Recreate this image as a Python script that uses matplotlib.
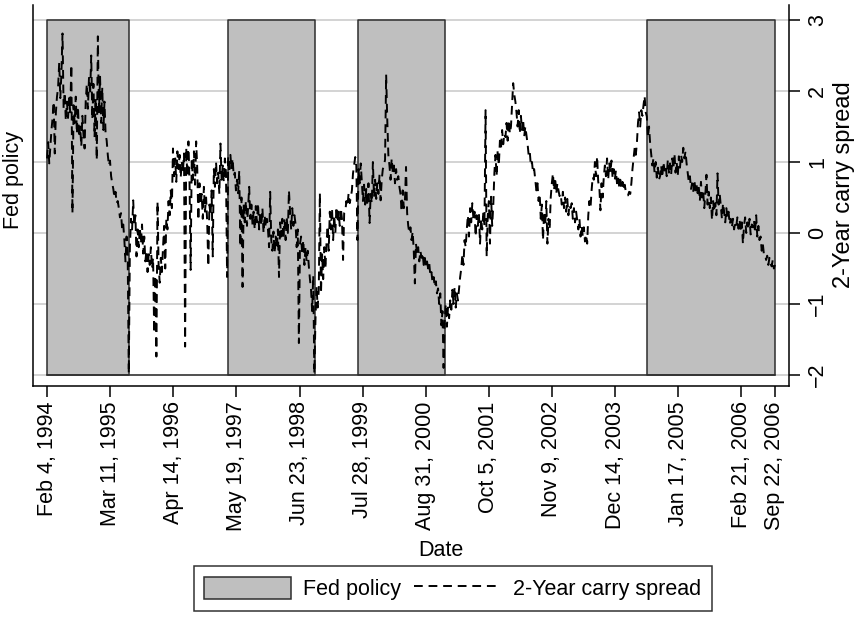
import pandas as pd
import matplotlib
matplotlib.use("Agg")
import matplotlib.pyplot as plt
from matplotlib.patches import Patch
from matplotlib.lines import Line2D

plt.rcParams['font.family'] = ['Liberation Sans', 'DejaVu Sans']

# Weekly (Friday) observations of the 2-year carry spread, starting 4 Feb 1994
start_date = '1994-02-04'
end_date = '2006-09-22'

tick_dates = ['1994-02-04', '1995-03-11', '1996-04-14', '1997-05-19', '1998-06-23',
              '1999-07-28', '2000-08-31', '2001-10-05', '2002-11-09', '2003-12-14',
              '2005-01-17', '2006-02-21', '2006-09-22']
tick_labels = ['Feb 4, 1994', 'Mar 11, 1995', 'Apr 14, 1996', 'May 19, 1997',
               'Jun 23, 1998', 'Jul 28, 1999', 'Aug 31, 2000', 'Oct 5, 2001',
               'Nov 9, 2002', 'Dec 14, 2003', 'Jan 17, 2005', 'Feb 21, 2006',
               'Sep 22, 2006']

# Fed tightening regimes (shaded)
policy_start = ['1994-02-04', '1997-03-25', '1999-06-30', '2004-06-30']
policy_end = ['1995-07-06', '1998-09-29', '2001-01-03', '2006-09-22']

spread = [
    1.05, 1.28, 0.98, 1.22, 1.45, 1.62, 1.85, 1.12, 1.70, 1.92,
    2.05, 2.40, 1.90, 2.25, 2.81, 1.75, 1.98, 1.58, 1.85, 1.62,
    1.90, 1.70, 2.37, 0.28, 1.80, 1.55, 1.92, 1.40, 1.78, 1.35,
    1.50, 1.22, 1.65, 1.38, 1.19, 1.85, 2.10, 1.75, 2.20, 1.95,
    2.50, 1.60, 2.10, 1.35, 1.90, 1.03, 2.77, 1.70, 2.20, 1.55,
    2.05, 1.45, 1.85, 1.40, 1.30, 1.10, 0.95, 1.02, 0.80, 0.70,
    0.62, 0.50, 0.58, 0.42, 0.45, 0.35, 0.22, 0.28, 0.05, 0.12,
    -0.10, -0.40, -0.05, -0.30, -1.98, -0.20, 0.20, 0.05, 0.46, 0.10,
    0.25, -0.33, 0.05, -0.20, 0.08, -0.15, 0.12, -0.29, -0.05, -0.40,
    -0.25, -0.55, -0.30, -0.45, -0.20, -0.50, -0.35, -1.41, -0.60, -1.74,
    0.44, -0.45, -0.70, -0.35, -0.55, -0.20, 0.10, -0.50, 0.20, 0.05,
    0.45, 0.25, 0.60, 0.35, 1.19, 0.80, 1.05, 0.72, 1.15, 0.90,
    1.10, 0.78, 1.00, 0.85, 1.12, -1.60, 1.20, 0.80, 1.29, 0.70,
    -0.52, 1.05, 0.75, 1.15, 0.68, 1.29, 0.90, 0.18, 0.70, 0.40,
    0.55, 0.20, 0.65, 0.30, 0.50, 0.15, -0.47, 0.40, 0.25, 0.60,
    -0.33, 0.90, 0.65, 1.00, 0.70, 0.85, 0.55, 1.26, 0.75, 0.95,
    0.72, 1.05, 0.85, -0.62, 1.08, 0.85, 1.10, 0.90, 1.05, 0.80,
    0.85, 0.60, 0.75, 0.56, 0.88, -0.19, 0.50, -0.76, 0.40, 0.15,
    0.45, 0.10, 0.35, 0.65, 0.20, 0.40, 0.12, 0.30, 0.05, 0.38,
    0.15, 0.42, 0.05, 0.30, 0.10, 0.35, 0.00, 0.25, 0.08, 0.20,
    0.05, -0.20, 0.58, -0.10, -0.25, 0.02, -0.28, -0.05, -0.22, 0.05,
    -0.62, 0.15, -0.05, 0.20, -0.08, 0.18, -0.10, 0.22, 0.00, 0.60,
    0.30, 0.05, 0.35, 0.10, 0.25, 0.12, -0.20, 0.05, -1.55, -0.15,
    -0.05, -0.30, -0.10, -0.45, -0.20, -0.40, -0.25, -0.47, -0.65, -0.80,
    -1.10, -0.60, -1.98, -1.23, -0.75, -1.05, -0.80, 0.56, -0.85, -0.30,
    -0.65, -0.20, -0.50, -0.15, 0.10, -0.25, 0.30, 0.05, 0.35, -0.10,
    0.25, 0.00, 0.37, 0.15, 0.30, 0.10, 0.35, 0.20, -0.38, 0.28,
    0.30, 0.45, 0.38, 0.56, 0.42, 0.50, 0.60, 0.84, 0.95, 1.07,
    0.95, -0.10, 0.90, 0.70, 0.98, 0.72, 0.45, 0.68, 0.40, 0.62,
    0.38, 0.70, 0.14, 0.55, 0.42, 1.00, 0.50, 0.75, 0.48, 0.70,
    0.55, 0.82, 0.46, 0.75, 0.90, 0.95, 1.03, 2.23, 1.60, 1.10,
    0.95, 0.75, 1.05, 0.85, 0.95, 0.70, 0.90, 0.75, 0.80, 0.65,
    0.55, 0.30, 0.60, 0.35, 0.45, 0.93, 0.28, 0.10, 0.00, 0.08,
    -0.10, 0.02, -0.25, -0.71, -0.15, -0.30, -0.20, -0.40, -0.25, -0.35,
    -0.28, -0.45, -0.35, -0.47, -0.40, -0.50, -0.42, -0.60, -0.55, -0.70,
    -0.62, -0.76, -0.68, -0.85, -0.78, -1.00, -0.85, -1.30, -1.10, -1.90,
    -1.25, -1.00, -1.32, -1.05, -1.20, -0.95, -1.08, -0.80, -1.00, -0.76,
    -1.05, -0.85, -0.95, -0.78, -0.62, -0.50, -0.30, -0.45, -0.10, -0.20,
    0.05, 0.25, -0.05, 0.35, 0.15, 0.42, 0.20, 0.30, -0.05, 0.25,
    0.10, 0.28, -0.15, 0.20, 0.05, 0.30, 0.10, 1.73, -0.33, 0.25,
    0.45, -0.15, 0.51, 0.10, 0.40, 0.85, 1.10, 0.80, 1.17, 0.95,
    1.30, 1.20, 1.45, 1.25, 1.40, 1.35, 1.55, 1.30, 1.59, 1.40,
    1.50, 1.80, 2.11, 1.95, 1.85, 1.70, 1.50, 1.73, 1.40, 1.65,
    1.45, 1.60, 1.36, 1.50, 1.38, 1.26, 1.10, 1.15, 0.95, 1.00,
    0.85, 0.90, 0.75, 0.60, 0.70, 0.45, 0.55, 0.20, 0.40, -0.10,
    0.30, 0.10, 0.45, -0.15, 0.20, 0.05, 0.50, 0.70, 0.84, 0.60,
    0.78, 0.55, 0.70, 0.60, 0.52, 0.55, 0.40, 0.58, 0.35, 0.50,
    0.30, 0.48, 0.25, 0.40, 0.35, 0.42, 0.20, 0.35, 0.15, 0.30,
    0.18, 0.05, 0.20, -0.05, 0.10, -0.05, 0.08, -0.12, -0.02, -0.15,
    0.25, 0.45, 0.35, 0.60, 0.79, 0.75, 1.00, 0.80, 1.08, 0.72,
    0.65, 0.32, 0.70, 0.50, 0.78, 0.95, 0.80, 1.05, 0.75, 0.98,
    0.85, 1.02, 0.78, 0.90, 0.75, 0.88, 0.70, 0.79, 0.65, 0.75,
    0.62, 0.72, 0.60, 0.68, 0.58, 0.56, 0.53, 0.58, 0.55, 0.70,
    0.90, 1.05, 1.20, 1.10, 1.26, 1.55, 1.70, 1.50, 1.73, 1.65,
    1.80, 1.93, 1.70, 1.64, 1.35, 1.50, 1.26, 1.10, 0.95, 1.05,
    0.85, 1.00, 0.78, 0.92, 0.75, 0.80, 0.95, 0.78, 1.00, 0.88,
    0.95, 0.80, 1.03, 0.85, 0.98, 0.82, 1.05, 0.90, 1.12, 0.85,
    1.00, 0.80, 1.08, 0.92, 1.10, 1.00, 1.20, 1.05, 1.15, 0.98,
    0.85, 0.72, 0.80, 0.62, 0.70, 0.58, 0.75, 0.60, 0.68, 0.56,
    0.65, 0.45, 0.72, 0.50, 0.60, 0.35, 0.55, 0.82, 0.40, 0.58,
    0.35, 0.50, 0.18, 0.45, 0.30, 0.42, 0.25, 0.84, 0.40, 0.55,
    0.38, 0.20, 0.42, 0.30, 0.15, 0.35, 0.22, 0.30, 0.12, 0.20,
    0.08, 0.20, 0.05, 0.15, 0.10, 0.22, 0.06, 0.18, 0.04, 0.15,
    -0.15, 0.10, 0.22, 0.00, 0.15, 0.05, 0.20, -0.02, 0.12, 0.08,
    0.18, 0.00, 0.25, -0.05, 0.10, -0.10, -0.05, -0.25, -0.15, -0.30,
    -0.30, -0.38, -0.32, -0.45, -0.35, -0.42, -0.47, -0.38, -0.50, -0.45,
]

dates = pd.date_range(start_date, periods=len(spread), freq='7D')

SHADE = '#bfbfbf'
EDGE = '#2e2e2e'
FS = 15.5
LW = 1.4
DASH = (4.5, 3.0)

fig = plt.figure(figsize=(8.62, 6.22), dpi=100)
W, H = 862, 622
ax = fig.add_axes([33 / W, 1 - 386 / H, 756 / W, 381 / H])

# horizontal grid at the right-axis ticks
for v in range(-2, 4):
    ax.axhline(v, color='#cccccc', lw=1.2, zorder=0)

# shaded Fed policy regimes, drawn as an area from -2 to 3
for s, e in zip(policy_start, policy_end):
    ax.fill_between(pd.to_datetime([s, e]), -2, 3, facecolor=SHADE,
                    edgecolor=EDGE, lw=1.1, zorder=1)
ax.plot(pd.to_datetime([start_date, end_date]), [-2, -2], color=EDGE, lw=1.1, zorder=1)

ax.plot(dates, spread, color='black', lw=LW, dashes=DASH, zorder=3)

pad_days = pd.Timedelta(days=89)
ax.set_xlim(pd.Timestamp(start_date) - pad_days, pd.Timestamp(end_date) + pad_days)
ax.set_ylim(-2.155, 3.211)

ax.set_xticks(pd.to_datetime(tick_dates))
ax.set_xticklabels(tick_labels, rotation=90, fontsize=FS)
ax.tick_params(axis='x', length=8, width=1.1, direction='out', pad=3, colors='black')

ax.yaxis.tick_right()
ax.set_yticks(range(-2, 4))
ax.set_yticklabels(['\u22122', '\u22121', '0', '1', '2', '3'], rotation=90,
                   va='center', ha='left', fontsize=FS)
ax.tick_params(axis='y', length=8, width=1.1, direction='out', pad=5)

for side in ['left', 'right', 'bottom']:
    ax.spines[side].set_color('black')
    ax.spines[side].set_linewidth(1.1)
ax.spines['top'].set_visible(False)

ax.set_xlabel('Date', fontsize=FS)
ax.xaxis.set_label_coords((441 - 33) / 756, (386 - 550) / 381)
ax.xaxis.label.set_va('center')

ax.yaxis.set_label_position('right')
ax.set_ylabel('2-Year carry spread', fontsize=FS + 1.5, rotation=90)
ax.yaxis.set_label_coords((844 - 33) / 756, (386 - 185) / 381)
ax.yaxis.label.set_va('center')

fig.text(14 / W, 1 - 180 / H, 'Fed policy', rotation=90, ha='center', va='center',
         fontsize=FS)

handles = [Patch(facecolor=SHADE, edgecolor=EDGE, lw=1.1, label='Fed policy'),
           Line2D([], [], color='black', lw=LW, dashes=DASH, label='2-Year carry spread')]
leg = fig.legend(handles=handles, loc='upper center', bbox_to_anchor=(453 / W, 1 - 566 / H),
                 ncol=2, frameon=True, fancybox=False, edgecolor='black', fontsize=FS,
                 handlelength=4, handleheight=1.2, columnspacing=0.6, handletextpad=0.6,
                 borderpad=0.5, borderaxespad=0)
leg.get_frame().set_linewidth(1.1)

fig.savefig('out.png', dpi=100)
